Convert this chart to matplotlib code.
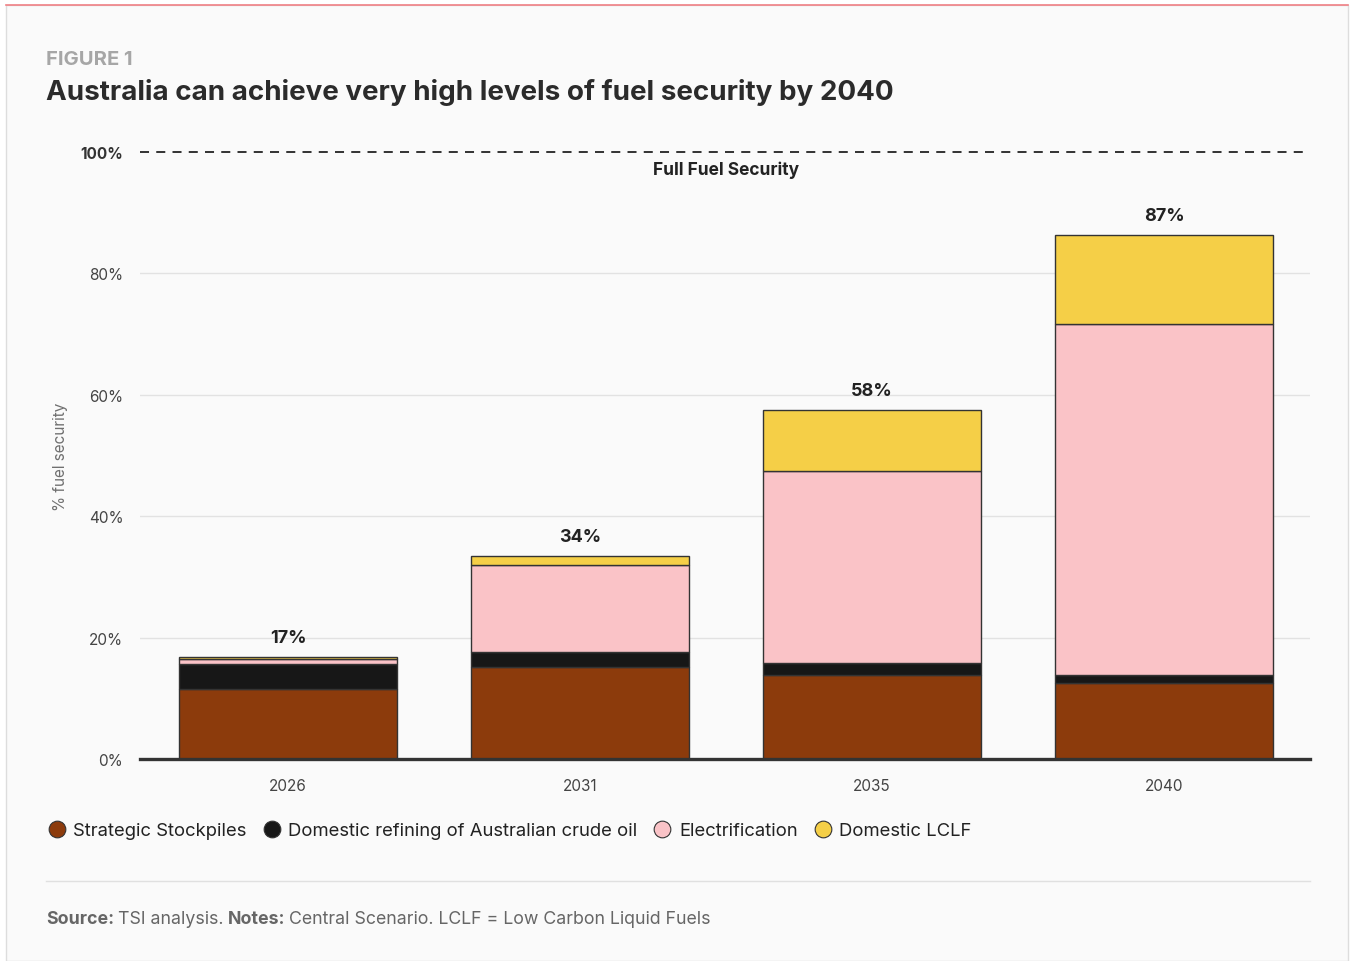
import matplotlib.pyplot as plt
from matplotlib.lines import Line2D
from matplotlib.patches import Rectangle

plt.rcParams['font.family'] = ['Inter', 'DejaVu Sans']

years = ['2026', '2031', '2035', '2040']
stockpiles = [11.6, 15.1, 13.8, 12.5]
refining = [4.0, 2.6, 2.0, 1.3]
electrification = [0.8, 14.3, 31.6, 57.9]
lclf = [0.4, 1.5, 10.1, 14.6]
totals = ['17%', '34%', '58%', '87%']

series = [
    ('Strategic Stockpiles', stockpiles, '#8c3b0c'),
    ('Domestic refining of Australian crude oil', refining, '#171717'),
    ('Electrification', electrification, '#fac3c7'),
    ('Domestic LCLF', lclf, '#f5cf47'),
]

W, H = 1354, 962
fig = plt.figure(figsize=(W / 100, H / 100), dpi=100)
fig.patch.set_facecolor('white')

# panel background and border
fig.patches.append(Rectangle((6 / W, 0), (W - 12) / W, (H - 6) / H, transform=fig.transFigure,
                             facecolor='#fafafa', edgecolor='#dddddd', lw=1, zorder=-5))
fig.add_artist(Line2D([6 / W, (W - 6) / W], [1 - 6 / H, 1 - 6 / H], color='#f08085', lw=1.2))

ax = fig.add_axes([140 / W, 1 - 760 / H, (1310 - 140) / W, (760 - 153) / H])
ax.set_facecolor('#fafafa')

x = range(len(years))
bottom = [0] * len(years)
for name, vals, color in series:
    ax.bar(x, vals, width=0.747, bottom=bottom, color=color, edgecolor='#333333',
           linewidth=1, zorder=3, label=name)
    bottom = [b + v for b, v in zip(bottom, vals)]

for i, t in enumerate(totals):
    ax.annotate(t, (i, bottom[i]), xytext=(0, 8), textcoords='offset points',
                ha='center', va='bottom', fontsize=13, fontweight='bold', color='#222222')

ax.set_xlim(-0.507, 3.5)
ax.set_ylim(0, 100)
ax.set_yticks([0, 20, 40, 60, 80, 100])
ax.set_yticklabels(['0%', '20%', '40%', '60%', '80%', '100%'])
ax.set_xticks(list(x))
ax.set_xticklabels(years)
ax.tick_params(axis='both', length=0, labelsize=11, labelcolor='#444444')
ax.tick_params(axis='y', pad=12)
ax.tick_params(axis='x', pad=14)
ax.get_yticklabels()[-1].set_fontweight('bold')
ax.get_yticklabels()[-1].set_color('#333333')

for y in [20, 40, 60, 80]:
    ax.axhline(y, color='#e2e2e2', lw=1, zorder=1)
ax.axhline(100, color='#222222', lw=1.3, ls=(0, (5, 4)), zorder=2, clip_on=False)
ax.axhline(0, color='#333333', lw=2.4, zorder=4, clip_on=False)
for s in ax.spines.values():
    s.set_visible(False)

ax.text(1.5, 97.2, 'Full Fuel Security', ha='center', va='center', fontsize=12.5,
        fontweight='bold', color='#222222')

fig.text(61 / W, 1 - 457 / H, '% fuel security', rotation=90, ha='center', va='center',
         fontsize=11, color='#6f6f6f')

fig.text(46 / W, 1 - 60 / H, 'FIGURE 1', fontsize=14.5, fontweight='bold', color='#a6a6a6',
         ha='left', va='center')
fig.text(46 / W, 1 - 92 / H, 'Australia can achieve very high levels of fuel security by 2040',
         fontsize=20, fontweight='bold', color='#2b2b2b', ha='left', va='center')

handles = [Line2D([], [], marker='o', ls='', markersize=12, markerfacecolor=c,
                  markeredgecolor='#333333', markeredgewidth=0.8) for _, _, c in series]
fig.legend(handles, [n for n, _, _ in series], loc='center left',
           bbox_to_anchor=(29 / W, 1 - 832 / H), ncol=4, frameon=False, fontsize=13.3,
           handletextpad=0.3, columnspacing=0.75, handlelength=1.2, labelcolor='#222222')

fig.add_artist(Line2D([46 / W, 1310 / W], [1 - 882 / H, 1 - 882 / H], color='#e0e0e0', lw=1))

src = fig.text(46 / W, 1 - 920 / H, 'Source:', fontsize=12.8, fontweight='bold',
               color='#666666', ha='left', va='center')
fig.canvas.draw()
r = fig.canvas.get_renderer()


def after(prev, text, bold=False):
    bb = prev.get_window_extent(renderer=r)
    return fig.text(bb.x1 / W + 4 / W, 1 - 920 / H, text, fontsize=12.8,
                    fontweight='bold' if bold else 'normal', color='#666666',
                    ha='left', va='center')


a = after(src, 'TSI analysis.')
b = after(a, 'Notes:', bold=True)
after(b, 'Central Scenario. LCLF = Low Carbon Liquid Fuels')

fig.savefig('out.png', dpi=100, facecolor='white')
